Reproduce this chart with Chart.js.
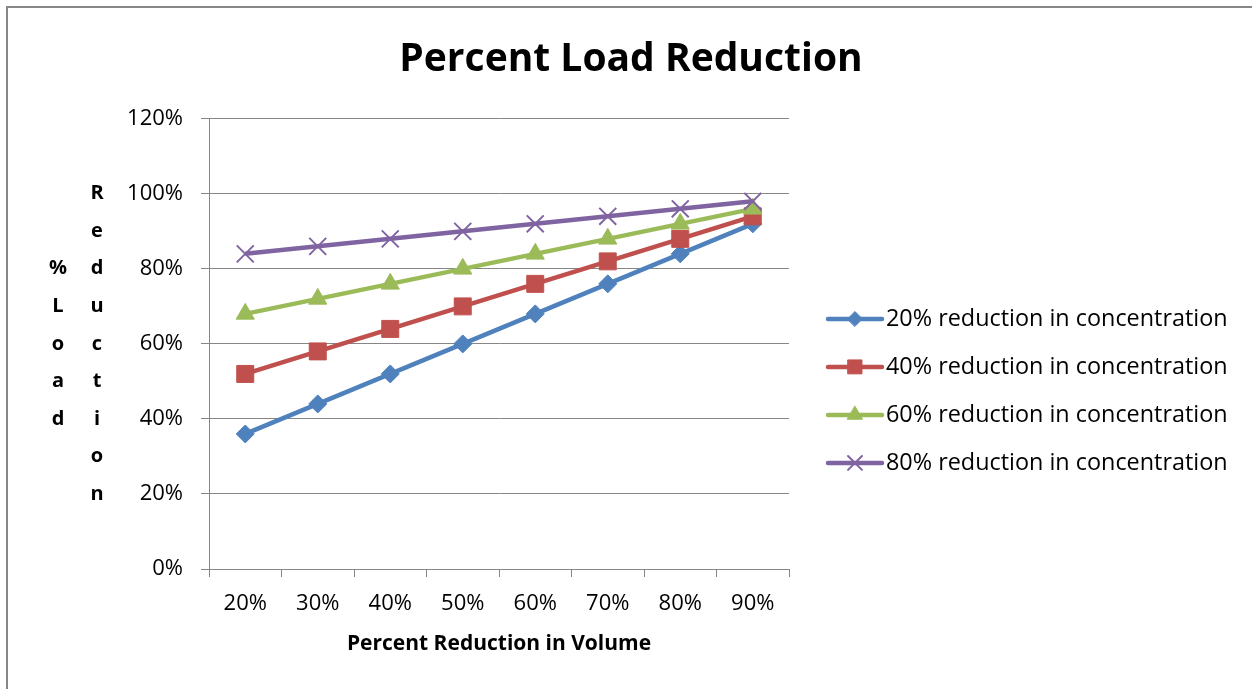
<!DOCTYPE html>
<html><head><meta charset="utf-8">
<script src="https://cdn.jsdelivr.net/npm/chart.js@4.4.0/dist/chart.umd.min.js"></script>
<style>
html,body{margin:0;padding:0;background:#fff;overflow:hidden;width:1252px;height:689px;}
#frame{position:absolute;left:6px;top:6px;width:1300px;height:800px;border:2px solid #878787;box-sizing:border-box;}
#wrap{position:absolute;left:0;top:0;width:1252px;height:689px;}
</style></head><body>
<div id="frame"></div>
<div id="wrap"><canvas id="c" width="1252" height="689"></canvas></div>
<script>
// ---- data ----
const categories = ['20%','30%','40%','50%','60%','70%','80%','90%'];
const seriesNames = ['20% reduction in concentration','40% reduction in concentration','60% reduction in concentration','80% reduction in concentration'];
const conc20 = [36,44,52,60,68,76,84,92];
const conc40 = [52,58,64,70,76,82,88,94];
const conc60 = [68,72,76,80,84,88,92,96];
const conc80 = [84,86,88,90,92,94,96,98];
const yTickValues = [0,20,40,60,80,100,120];
const chartTitle = 'Percent Load Reduction';
const xTitle = 'Percent Reduction in Volume';
const yTitleColumns = ['% Load', 'Reduction'];

// ---- styles ----
const colors = ['#4F81BD','#C0504D','#9BBB59','#8064A2'];
const pStyles = ['rectRot','rect','triangle','crossRot'];
const pRadius = [9,12,10.5,12];
const pBorder = [1,1,1,2];
const FONT = "'Open Sans', sans-serif";
const GRID = '#868686';

const seriesValues = [conc20, conc40, conc60, conc80];
const datasets = seriesValues.map((vals, i) => ({
  label: seriesNames[i],
  data: vals,
  borderColor: colors[i],
  backgroundColor: colors[i],
  borderWidth: 4.5,
  pointStyle: pStyles[i],
  pointRadius: pRadius[i],
  pointBorderWidth: pBorder[i],
  pointBackgroundColor: colors[i],
  pointBorderColor: colors[i],
  tension: 0,
  fill: false,
  order: seriesValues.length - 1 - i
}));

function drawMarker(ctx, style, r, x, y, color, bw) {
  const opts = {pointStyle: style, radius: r, borderWidth: bw, rotation: 0};
  ctx.save();
  ctx.fillStyle = color; ctx.strokeStyle = color; ctx.lineWidth = bw;
  Chart.helpers.drawPoint(ctx, opts, x, y);
  ctx.restore();
}

const extrasPlugin = {
  id: 'extras',
  afterDraw(chart) {
    const ctx = chart.ctx;
    const a = chart.chartArea;
    // y axis stacked title
    const colX = [a.left - 151, a.left - 112];
    const lh = 37.6;
    const cy = (a.top + a.bottom) / 2;
    ctx.save();
    ctx.font = "bold 20px " + FONT;
    ctx.fillStyle = '#000';
    ctx.textAlign = 'center';
    ctx.textBaseline = 'middle';
    yTitleColumns.forEach((word, ci) => {
      const chars = word.replace(/\s/g, '').split('');
      const start = cy - (chars.length - 1) / 2 * lh;
      chars.forEach((ch, k) => ctx.fillText(ch, colX[ci], start + k * lh));
    });
    ctx.restore();
    // legend
    const n = chart.data.datasets.length;
    const yMid = cy + 47;
    const step = 48;
    ctx.save();
    chart.data.datasets.forEach((ds, i) => {
      const y = yMid + (i - (n - 1) / 2) * step;
      const x0 = a.right + 39, x1 = a.right + 93;
      ctx.strokeStyle = ds.borderColor;
      ctx.lineWidth = 4.5;
      ctx.lineCap = 'round';
      ctx.beginPath(); ctx.moveTo(x0, y); ctx.lineTo(x1, y); ctx.stroke();
      drawMarker(ctx, ds.pointStyle, ds.pointRadius * 0.82, (x0 + x1) / 2, y, ds.borderColor, ds.pointBorderWidth);
      ctx.font = "23.4px " + FONT;
      ctx.fillStyle = '#000';
      ctx.textAlign = 'left';
      ctx.textBaseline = 'middle';
      ctx.fillText(ds.label, a.right + 97, y);
    });
    ctx.restore();
  }
};

new Chart(document.getElementById('c'), {
  type: 'line',
  data: { labels: categories, datasets: datasets },
  plugins: [extrasPlugin],
  options: {
    responsive: false,
    animation: false,
    devicePixelRatio: 1,
    events: [],
    layout: { padding: { left: 10, right: 0, top: 0, bottom: 32 } },
    plugins: {
      legend: { display: false },
      tooltip: { enabled: false },
      title: {
        display: true,
        text: chartTitle,
        color: '#000',
        font: { family: FONT, size: 39, weight: 'bold', lineHeight: 1.2 },
        padding: { top: 36, bottom: 36 }
      }
    },
    scales: {
      x: {
        type: 'category',
        offset: true,
        afterFit(s) { s.height = 88; },
        grid: { display: true, offset: true, drawOnChartArea: false, drawTicks: true, tickLength: 8, color: GRID, lineWidth: 1 },
        border: { display: true, color: GRID, width: 1 },
        ticks: { color: '#000', font: { family: FONT, size: 22 }, padding: 14, maxRotation: 0, autoSkip: false },
        title: { display: true, text: xTitle, color: '#000', font: { family: FONT, size: 21, weight: 'bold', lineHeight: 1.2 }, padding: { top: 0, bottom: 0 } }
      },
      y: {
        position: 'left',
        min: 0, max: 120,
        afterFit(s) { s.width = 199; },
        afterBuildTicks(s) { s.ticks = yTickValues.map(v => ({ value: v })); },
        grid: { display: true, drawOnChartArea: true, drawTicks: true, tickLength: 8, color: GRID, lineWidth: 1 },
        border: { display: true, color: GRID, width: 1 },
        ticks: { color: '#000', font: { family: FONT, size: 22 }, padding: 18, callback: v => v + '%' }
      },
      yR: {
        position: 'right',
        display: true,
        afterFit(s) { s.width = 463; },
        grid: { display: false },
        border: { display: false },
        ticks: { display: false }
      }
    }
  }
});
</script>
</body></html>
